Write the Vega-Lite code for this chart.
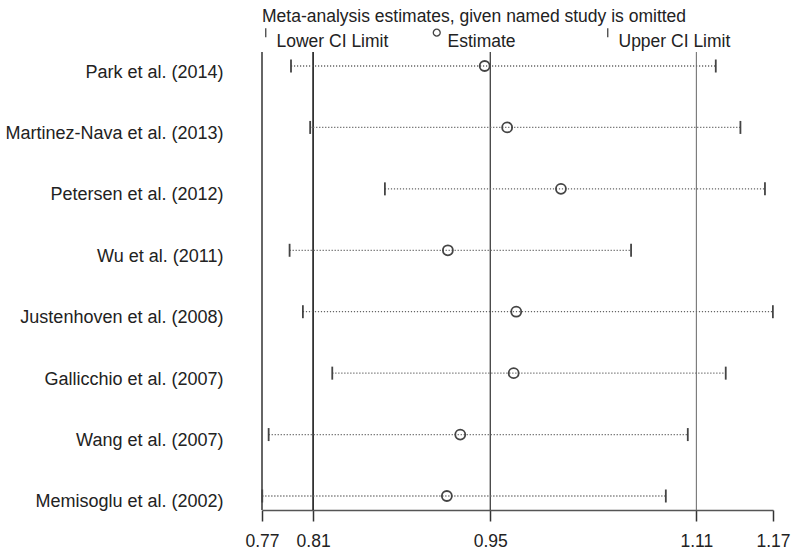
{
  "$schema": "https://vega.github.io/schema/vega-lite/v6.json",
  "width": 511,
  "height": 458,
  "autosize": {"type": "none"},
  "padding": {"left": 262, "top": 52, "right": 27, "bottom": 42},
  "background": "white",
  "config": {"view": {"stroke": null}, "font": "Liberation Sans"},
  "datasets": {
    "studies": [
      {"study": "Park et al. (2014)", "lower": 0.7927, "est": 0.9443, "upper": 1.1252},
      {"study": "Martinez-Nava et al. (2013)", "lower": 0.8077, "est": 0.9619, "upper": 1.1445},
      {"study": "Petersen et al. (2012)", "lower": 0.8662, "est": 1.004, "upper": 1.1637},
      {"study": "Wu et al. (2011)", "lower": 0.7916, "est": 0.9155, "upper": 1.0589},
      {"study": "Justenhoven et al. (2008)", "lower": 0.802, "est": 0.969, "upper": 1.1699},
      {"study": "Gallicchio et al. (2007)", "lower": 0.825, "est": 0.967, "upper": 1.133},
      {"study": "Wang et al. (2007)", "lower": 0.7752, "est": 0.9252, "upper": 1.1033},
      {"study": "Memisoglu et al. (2002)", "lower": 0.7702, "est": 0.9147, "upper": 1.0861}
    ],
    "lines": [
      {"v": 0.77, "k": "min"},
      {"v": 0.81, "k": "lcl"},
      {"v": 0.9487, "k": "est"},
      {"v": 1.11, "k": "ucl"}
    ]
  },
  "layer": [
    {
      "data": {"name": "lines"},
      "mark": {"type": "rule"},
      "encoding": {
        "x": {
          "field": "v",
          "type": "quantitative",
          "title": null,
          "scale": {"domain": [0.77, 1.17], "nice": false, "zero": false},
          "axis": {
            "title": null,
            "values": [0.77, 0.81, 0.9487, 1.11, 1.17],
            "format": ".2f",
            "grid": false,
            "tickSize": 11,
            "tickColor": "#333",
            "tickWidth": 1.5,
            "domainColor": "#555",
            "domainWidth": 1.5,
            "labelFontSize": 17.5,
            "labelColor": "#222",
            "labelPadding": 11,
            "labelFlush": false,
            "labelOverlap": false
          }
        },
        "color": {
          "field": "k",
          "type": "nominal",
          "scale": {"domain": ["min", "lcl", "est", "ucl"], "range": ["#666666", "#222222", "#444444", "#666666"]},
          "legend": null
        },
        "strokeWidth": {
          "field": "k",
          "type": "nominal",
          "scale": {"domain": ["min", "lcl", "est", "ucl"], "range": [2, 1, 2, 2]},
          "legend": null
        }
      }
    },
    {
      "data": {"name": "studies"},
      "mark": {"type": "rule", "strokeDash": [1.2, 1.8], "color": "#666666", "strokeWidth": 1.3},
      "encoding": {
        "y": {
          "field": "study",
          "type": "nominal",
          "title": null,
          "scale": {
            "type": "point",
            "padding": 0.228,
            "domain": ["Park et al. (2014)", "Martinez-Nava et al. (2013)", "Petersen et al. (2012)", "Wu et al. (2011)", "Justenhoven et al. (2008)", "Gallicchio et al. (2007)", "Wang et al. (2007)", "Memisoglu et al. (2002)"]
          },
          "axis": {
            "title": null,
            "ticks": false,
            "domain": false,
            "grid": false,
            "labelPadding": 39,
            "labelFontSize": 18,
            "labelColor": "#222",
            "labelOffset": 6,
            "labelLimit": 300
          }
        },
        "x": {"field": "lower", "type": "quantitative", "title": null},
        "x2": {"field": "upper"}
      }
    },
    {
      "data": {"name": "studies"},
      "transform": [{"fold": ["lower", "est", "upper"], "as": ["key", "value"]}],
      "mark": {"type": "point", "filled": false, "color": "#444444", "strokeWidth": 1.8, "size": 169, "opacity": 1},
      "encoding": {
        "y": {"field": "study", "type": "nominal", "title": null},
        "x": {"field": "value", "type": "quantitative", "title": null},
        "shape": {
          "field": "key",
          "type": "nominal",
          "scale": {
            "domain": ["lower", "est", "upper"],
            "range": ["M0,-1L0,1", "M-0.77,0A0.77,0.77,0,1,0,0.77,0A0.77,0.77,0,1,0,-0.77,0Z", "M0,-1L0,1"]
          },
          "legend": {
            "title": "Meta-analysis estimates, given named study is omitted",
            "orient": "top",
            "direction": "horizontal",
            "titleFontSize": 17.5,
            "titleFontWeight": "normal",
            "titleColor": "#222",
            "titlePadding": -2,
            "titleLimit": 600,
            "labelFontSize": 17.5,
            "labelColor": "#222",
            "labelBaseline": "top",
            "labelOffset": 2,
            "labelLimit": 300,
            "symbolSize": 81,
            "symbolOffset": -5,
            "symbolStrokeWidth": 1.3,
            "symbolStrokeColor": "#444",
            "symbolFillColor": "transparent",
            "columnPadding": 41,
            "gridAlign": "all",
            "offset": 1,
            "labelExpr": "datum.label == 'lower' ? 'Lower CI Limit' : datum.label == 'est' ? 'Estimate' : 'Upper CI Limit'"
          }
        }
      }
    }
  ]
}
